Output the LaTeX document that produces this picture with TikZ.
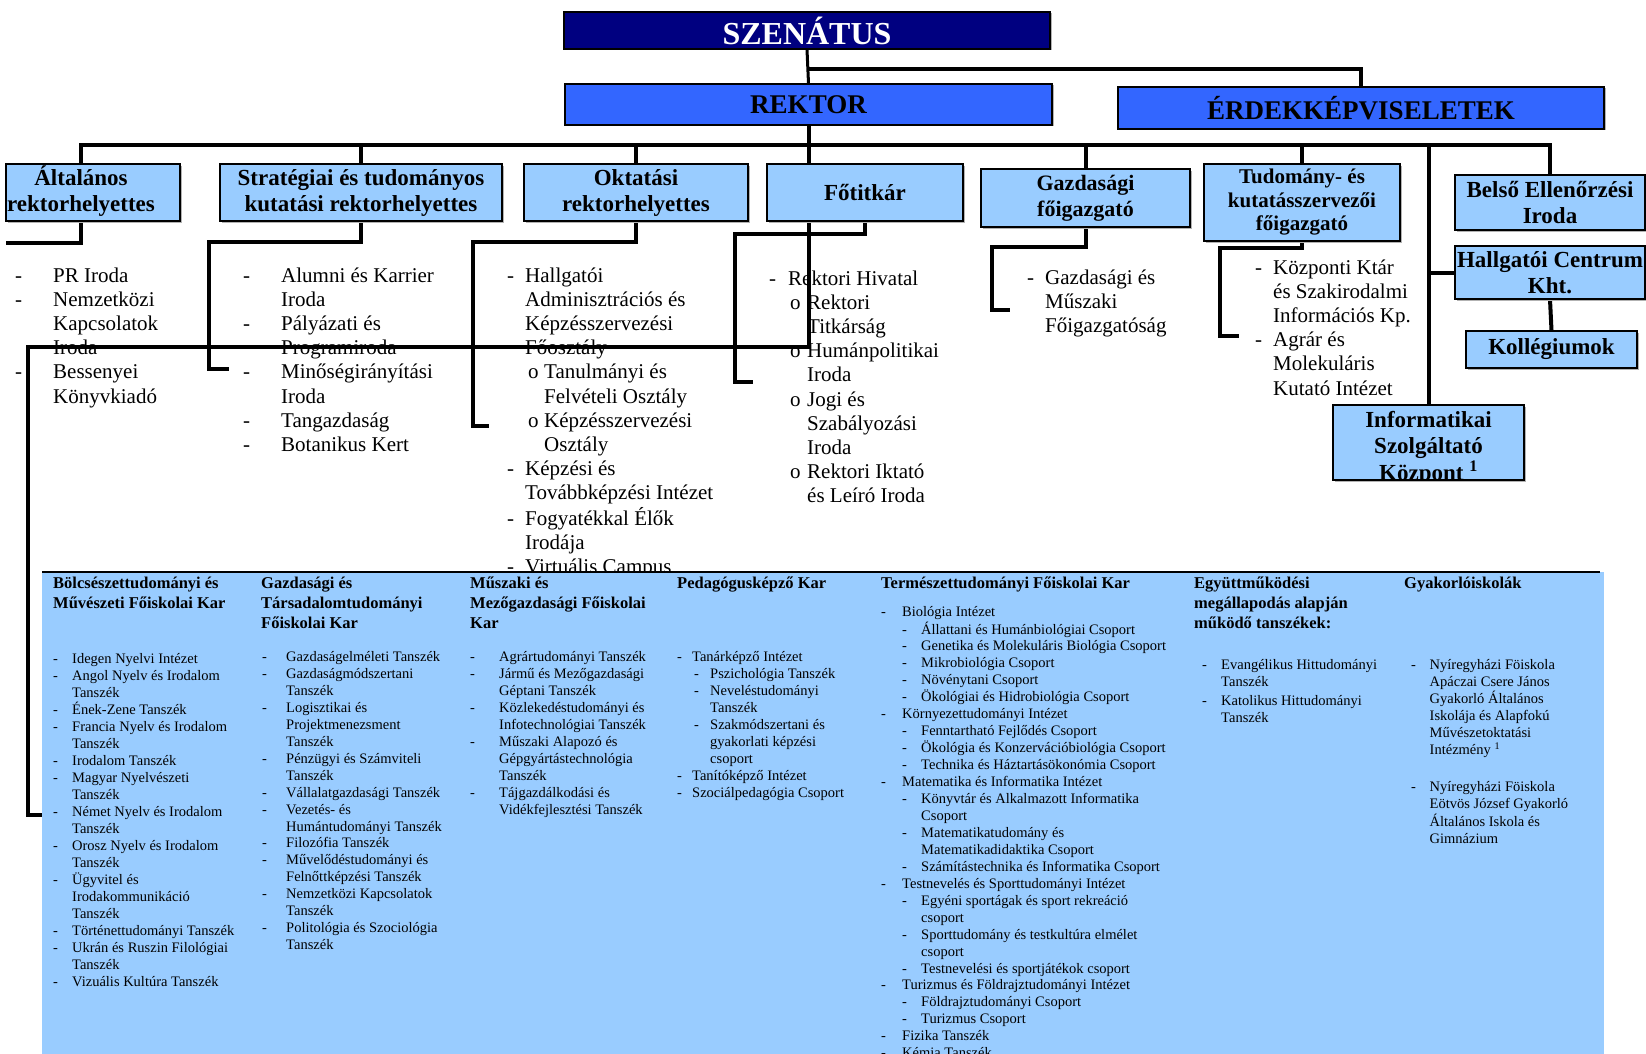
\documentclass[tikz,border=0pt]{standalone}
\usepackage{fontspec}
\setmainfont{Liberation Serif}
\usetikzlibrary{shadows}
\pgfdeclarelayer{back}
\pgfsetlayers{back,main}

\definecolor{senat}{RGB}{0,0,128}
\definecolor{rektorblue}{RGB}{51,102,255}
\definecolor{unitblue}{RGB}{153,204,255}

% list indentation: \dA = text after a dash, \dB = sub-level marker, \dC = sub-level text
\newlength\dA \newlength\dB \newlength\dC
\newcommand\Dd[1]{\makebox[\dA][l]{-}#1}
\newcommand\Cc[1]{\hspace*{\dA}#1}
\newcommand\Sd[1]{\hspace*{\dB}\makebox[\dimexpr\dC-\dB\relax][l]{-}#1}
\newcommand\So[1]{\hspace*{\dB}\makebox[\dimexpr\dC-\dB\relax][l]{o}#1}
\newcommand\Sc[1]{\hspace*{\dC}#1}
\newcommand\rows[1]{\begin{tabular}[t]{@{}l@{}}#1\end{tabular}}

\tikzset{
  box/.style={draw=black, line width=1.3pt, inner sep=0pt, align=center,
    drop shadow={shadow xshift=1.5pt, shadow yshift=-1.5pt, fill=gray!60, opacity=1}},
  unit/.style={box, fill=unitblue, font=\fontsize{23}{26}\selectfont\bfseries},
  conn/.style={line width=4pt, line join=miter, line cap=butt},
  lst/.style={anchor=base west, inner sep=0pt, font=\fontsize{21}{24.2}\selectfont},
  itm/.style={anchor=base west, inner sep=0pt, font=\fontsize{14.5}{16.95}\selectfont},
  hdr/.style={anchor=base west, inner sep=0pt, font=\fontsize{16.5}{20}\selectfont\bfseries},
}

\begin{document}
\begin{tikzpicture}[x=1pt,y=-1pt]
\clip (0,0) rectangle (1646,1054);

% ---------- boxes ----------
\node[box, fill=senat, text=white, minimum width=486pt, minimum height=37pt,
  font=\fontsize{32}{36}\selectfont\bfseries] (szen) at (807,30.5) {SZENÁTUS};
\node[box, fill=rektorblue, minimum width=487pt, minimum height=41pt,
  font=\fontsize{27}{30}\selectfont\bfseries] (rek) at (808.5,104.5) {REKTOR};
\node[box, fill=rektorblue, minimum width=486pt, minimum height=42pt,
  font=\fontsize{27}{30}\selectfont\bfseries] (erd) at (1361,108) {ÉRDEKKÉPVISELETEK};

\node[unit, minimum width=174pt, minimum height=57pt] (alt) at (93,192.5)
  {\hspace*{-24pt}\begin{tabular}{@{}c@{}}Általános\\rektorhelyettes\end{tabular}};
\node[unit, minimum width=282pt, minimum height=57pt] (str) at (361,192.5)
  {Stratégiai és tudományos\\kutatási rektorhelyettes};
\node[unit, minimum width=224pt, minimum height=57pt] (okt) at (636,192.5)
  {Oktatási\\rektorhelyettes};
\node[unit, minimum width=196pt, minimum height=57pt] (fot) at (865,192.5) {Főtitkár};
\node[unit, minimum width=209pt, minimum height=58pt, font=\fontsize{22}{26}\selectfont\bfseries]
  (gaz) at (1085.5,198) {Gazdasági\\főigazgató};
\node[unit, minimum width=196pt, minimum height=77pt, font=\fontsize{21}{23.5}\selectfont\bfseries]
  (tud) at (1302,202.5) {Tudomány- és\\kutatásszervezői\\főigazgató};
\node[unit, minimum width=190pt, minimum height=55pt] (bel) at (1550,202.5)
  {Belső Ellenőrzési\\Iroda};
\node[unit, minimum width=190pt, minimum height=53pt] (hal) at (1550,272.5)
  {Hallgatói Centrum\\Kht.};
\node[unit, minimum width=171pt, minimum height=37pt] (kol) at (1551.5,349.5) {Kollégiumok};
\node[unit, minimum width=191pt, minimum height=75pt] (inf) at (1428.5,442.5) {};
\begin{scope}
  \clip ([xshift=0.7pt,yshift=-0.7pt]inf.north west) rectangle ([xshift=-0.7pt,yshift=0.7pt]inf.south east);
  \node[anchor=base, inner sep=0pt, font=\fontsize{23}{26}\selectfont\bfseries] (inftext) at (1428.5,427)
    {\begin{tabular}[t]{@{}c@{}}Informatikai\\Szolgáltató\\Központ \textsuperscript{1}\end{tabular}};
\end{scope}

% ---------- junction points ----------
\coordinate (j1) at (807,69);
\coordinate (barL) at (81,145);
\coordinate (barR) at (1550,145);
\coordinate (altE) at (6,243);
\coordinate (strA) at (209,242);  \coordinate (strE) at (229,369);
\coordinate (oktA) at (473,242);  \coordinate (oktE) at (489,426);
\coordinate (fotA) at (735,234);  \coordinate (fotE) at (753,382);
\coordinate (gazA) at (992,247);  \coordinate (gazE) at (1010,310);
\coordinate (tudA) at (1220,248); \coordinate (tudE) at (1239,336);
\coordinate (long1) at (28,347);
\coordinate (blueL) at (42,815);

\begin{pgfonlayer}{back}
\fill[white] (0,0) rectangle (1646,1054);
% ---------- lists under the executive units ----------
\node[lst] (altlist) at (15,282) {\setlength\dA{38pt}\rows{%
  \Dd{PR Iroda}\\ \Dd{Nemzetközi}\\ \Cc{Kapcsolatok}\\ \Cc{Iroda}\\
  \Dd{Bessenyei}\\ \Cc{Könyvkiadó}}};
\node[lst] (strlist) at (243,282) {\setlength\dA{38pt}\rows{%
  \Dd{Alumni és Karrier}\\ \Cc{Iroda}\\ \Dd{Pályázati és}\\ \Cc{Programiroda}\\
  \Dd{Minőségirányítási}\\ \Cc{Iroda}\\ \Dd{Tangazdaság}\\ \Dd{Botanikus Kert}}};
\node[lst] (oktlist) at (507,282) {\setlength\dA{18pt}\setlength\dB{21pt}\setlength\dC{37pt}\rows{%
  \Dd{Hallgatói}\\ \Cc{Adminisztrációs és}\\ \Cc{Képzésszervezési}\\ \Cc{Főosztály}\\
  \So{Tanulmányi és}\\ \Sc{Felvételi Osztály}\\ \So{Képzésszervezési}\\ \Sc{Osztály}\\
  \Dd{Képzési és}\\ \Cc{Továbbképzési Intézet}\\ \Dd{Fogyatékkal Élők}\\ \Cc{Irodája}\\
  \Dd{Virtuális Campus}}};
\node[lst] (fotlist) at (769,285) {\setlength\dA{19pt}\setlength\dB{21pt}\setlength\dC{38pt}\rows{%
  \Dd{Rektori Hivatal}\\ \So{Rektori}\\ \Sc{Titkárság}\\ \So{Humánpolitikai}\\ \Sc{Iroda}\\
  \So{Jogi és}\\ \Sc{Szabályozási}\\ \Sc{Iroda}\\ \So{Rektori Iktató}\\ \Sc{és Leíró Iroda}}};
\node[lst] (gazlist) at (1027,284) {\setlength\dA{18pt}\rows{%
  \Dd{Gazdasági és}\\ \Cc{Műszaki}\\ \Cc{Főigazgatóság}}};
\node[lst] (tudlist) at (1255,274) {\setlength\dA{18pt}\rows{%
  \Dd{Központi Ktár}\\ \Cc{és Szakirodalmi}\\ \Cc{Információs Kp.}\\
  \Dd{Agrár és}\\ \Cc{Molekuláris}\\ \Cc{Kutató Intézet}}};

% ---------- connectors ----------
\draw[line width=3pt] (szen.south) -- (rek.north);
\draw[conn] (j1) -| (erd.north);
\draw[conn] (rek.south) -- (rek.south |- fot.north);
\draw[conn] (barL |- alt.north) -- (barL) -- (barR) -- (bel.north);
\draw[conn] (str.north |- barL) -- (str.north);
\draw[conn] (okt.north |- barL) -- (okt.north);
\draw[conn] (gaz.north |- barL) -- (gaz.north);
\draw[conn] (tud.north |- barL) -- (tud.north);
\draw[conn] (inf.north |- barL) -- (inf.north);
\draw[conn] (inf.north |- hal.west) -- (hal.west);
\draw[conn] (hal.south) -- (kol.north);

\draw[conn] (alt.south -| barL) |- (altE);
\draw[conn] (str.south) |- (strA) |- (strE);
\draw[conn] (okt.south) |- (oktA) |- (oktE);
\draw[conn] (fot.south) |- (fotA) |- (fotE);
\draw[conn] (gaz.south) |- (gazA) |- (gazE);
\draw[conn] (tud.south) |- (tudA) |- (tudE);
\draw[conn] (rek.south |- fot.south) |- (long1) |- (blueL);
\end{pgfonlayer}

% ---------- faculties panel ----------
\node[fill=unitblue, inner sep=0pt, minimum width=1562pt, minimum height=482pt,
  anchor=north west] (kar) at (42,572) {};
\draw[line width=1.2pt] (kar.north west) -- ([xshift=-4pt]kar.north east);

\node[hdr] (h1) at (53,588) {\rows{Bölcsészettudományi és\\Művészeti Főiskolai Kar}};
\node[itm] (l1) at (53,663.5) {\setlength\dA{19pt}\rows{%
  \Dd{Idegen Nyelvi Intézet}\\ \Dd{Angol Nyelv és Irodalom}\\ \Cc{Tanszék}\\
  \Dd{Ének-Zene Tanszék}\\ \Dd{Francia Nyelv és Irodalom}\\ \Cc{Tanszék}\\
  \Dd{Irodalom Tanszék}\\ \Dd{Magyar Nyelvészeti}\\ \Cc{Tanszék}\\
  \Dd{Német Nyelv és Irodalom}\\ \Cc{Tanszék}\\ \Dd{Orosz Nyelv és Irodalom}\\ \Cc{Tanszék}\\
  \Dd{Ügyvitel és}\\ \Cc{Irodakommunikáció}\\ \Cc{Tanszék}\\
  \Dd{Történettudományi Tanszék}\\ \Dd{Ukrán és Ruszin Filológiai}\\ \Cc{Tanszék}\\
  \Dd{Vizuális Kultúra Tanszék}}};

\node[hdr] (h2) at (261,588) {\rows{Gazdasági és\\Társadalomtudományi\\Főiskolai Kar}};
\node[itm] (l2) at (262,661.5) {\setlength\dA{24pt}\rows{%
  \Dd{Gazdaságelméleti Tanszék}\\ \Dd{Gazdaságmódszertani}\\ \Cc{Tanszék}\\
  \Dd{Logisztikai és}\\ \Cc{Projektmenezsment}\\ \Cc{Tanszék}\\
  \Dd{Pénzügyi és Számviteli}\\ \Cc{Tanszék}\\ \Dd{Vállalatgazdasági Tanszék}\\
  \Dd{Vezetés- és}\\ \Cc{Humántudományi Tanszék}\\ \Dd{Filozófia Tanszék}\\
  \Dd{Művelődéstudományi és}\\ \Cc{Felnőttképzési Tanszék}\\
  \Dd{Nemzetközi Kapcsolatok}\\ \Cc{Tanszék}\\
  \Dd{Politológia és Szociológia}\\ \Cc{Tanszék}}};

\node[hdr] (h3) at (470,588) {\rows{Műszaki és\\Mezőgazdasági Főiskolai\\Kar}};
\node[itm] (l3) at (470,661.5) {\setlength\dA{29pt}\rows{%
  \Dd{Agrártudományi Tanszék}\\ \Dd{Jármű és Mezőgazdasági}\\ \Cc{Géptani Tanszék}\\
  \Dd{Közlekedéstudományi és}\\ \Cc{Infotechnológiai Tanszék}\\
  \Dd{Műszaki Alapozó és}\\ \Cc{Gépgyártástechnológia}\\ \Cc{Tanszék}\\
  \Dd{Tájgazdálkodási és}\\ \Cc{Vidékfejlesztési Tanszék}}};

\node[hdr] (h4) at (677,588) {\rows{Pedagógusképző Kar}};
\node[itm] (l4) at (677,661.5) {\setlength\dA{15pt}\setlength\dB{17pt}\setlength\dC{33pt}\rows{%
  \Dd{Tanárképző Intézet}\\ \Sd{Pszichológia Tanszék}\\ \Sd{Neveléstudományi}\\ \Sc{Tanszék}\\
  \Sd{Szakmódszertani és}\\ \Sc{gyakorlati képzési}\\ \Sc{csoport}\\
  \Dd{Tanítóképző Intézet}\\ \Dd{Szociálpedagógia Csoport}}};

\node[hdr] (h5) at (881,588) {\rows{Természettudományi Főiskolai Kar}};
\node[itm] (l5) at (881,616.5) {\setlength\dA{21pt}\setlength\dB{21pt}\setlength\dC{40pt}\rows{%
  \Dd{Biológia Intézet}\\
  \Sd{Állattani és Humánbiológiai Csoport}\\
  \Sd{Genetika és Molekuláris Biológia Csoport}\\
  \Sd{Mikrobiológia Csoport}\\
  \Sd{Növénytani Csoport}\\
  \Sd{Ökológiai és Hidrobiológia Csoport}\\
  \Dd{Környezettudományi Intézet}\\
  \Sd{Fenntartható Fejlődés Csoport}\\
  \Sd{Ökológia és Konzervációbiológia Csoport}\\
  \Sd{Technika és Háztartásökonómia Csoport}\\
  \Dd{Matematika és Informatika Intézet}\\
  \Sd{Könyvtár és Alkalmazott Informatika}\\ \Sc{Csoport}\\
  \Sd{Matematikatudomány és}\\ \Sc{Matematikadidaktika Csoport}\\
  \Sd{Számítástechnika és Informatika Csoport}\\
  \Dd{Testnevelés és Sporttudományi Intézet}\\
  \Sd{Egyéni sportágak és sport rekreáció}\\ \Sc{csoport}\\
  \Sd{Sporttudomány és testkultúra elmélet}\\ \Sc{csoport}\\
  \Sd{Testnevelési és sportjátékok csoport}\\
  \Dd{Turizmus és Földrajztudományi Intézet}\\
  \Sd{Földrajztudományi Csoport}\\
  \Sd{Turizmus Csoport}\\
  \Dd{Fizika Tanszék}\\
  \Dd{Kémia Tanszék}}};

\node[hdr] (h6) at (1194,588) {\rows{Együttműködési\\megállapodás alapján\\működő tanszékek:}};
\node[itm] (l6) at (1202,669.5) {\setlength\dA{19pt}\rows{%
  \Dd{Evangélikus Hittudományi}\\ \Cc{Tanszék}\\[2pt]
  \Dd{Katolikus Hittudományi}\\ \Cc{Tanszék}}};

\node[hdr] (h7) at (1404,588) {\rows{Gyakorlóiskolák}};
\node[itm] (l7) at (1411,669.5) {\setlength\dA{18.5pt}\rows{%
  \Dd{Nyíregyházi Föiskola}\\ \Cc{Apáczai Csere János}\\ \Cc{Gyakorló Általános}\\
  \Cc{Iskolája és Alapfokú}\\ \Cc{Művészetoktatási}\\ \Cc{Intézmény \textsuperscript{1}}\\
  \\[3pt]
  \Dd{Nyíregyházi Föiskola}\\ \Cc{Eötvös József Gyakorló}\\ \Cc{Általános Iskola és}\\
  \Cc{Gimnázium}}};
\end{tikzpicture}
\end{document}
